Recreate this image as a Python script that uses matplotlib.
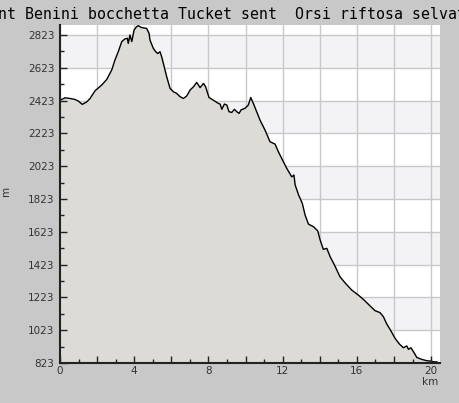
import matplotlib
matplotlib.use("Agg")
import matplotlib.pyplot as plt
from matplotlib.ticker import FixedLocator

title_text = "nt Benini bocchetta Tucket sent  Orsi riftosa selvat"

dist_km = [0, 0.27, 0.54, 0.81, 0.99, 1.20, 1.44, 1.62, 1.89, 2.25, 2.52, 2.79, 2.96,
           3.14, 3.33, 3.50, 3.63, 3.68, 3.77, 3.87, 3.99, 4.13, 4.22, 4.38, 4.67,
           4.80, 4.85, 5.03, 5.16, 5.27, 5.39, 5.48, 5.57, 5.75, 5.93, 6.11, 6.29,
           6.47, 6.65, 6.83, 7.01, 7.19, 7.37, 7.55, 7.73, 7.85, 8.03, 8.26, 8.53,
           8.63, 8.72, 8.86, 8.99, 9.11, 9.26, 9.40, 9.53, 9.65, 9.76, 9.97, 10.15,
           10.28, 10.42, 10.60, 10.78, 11.05, 11.32, 11.59, 11.77, 12.04, 12.22,
           12.49, 12.61, 12.67, 12.85, 13.06, 13.21, 13.39, 13.66, 13.89, 14.02,
           14.19, 14.38, 14.56, 14.82, 15.09, 15.36, 15.72, 16.08, 16.35, 16.71,
           16.98, 17.25, 17.43, 17.61, 17.83, 18.06, 18.29, 18.51, 18.69, 18.78,
           18.91, 19.05, 19.23, 19.50, 19.77, 19.95, 20.12, 20.32]
elev_m = [2425, 2440, 2436, 2430, 2420, 2400, 2415, 2436, 2483, 2518, 2552, 2610, 2670,
          2721, 2783, 2799, 2803, 2772, 2823, 2783, 2853, 2874, 2880, 2869, 2863,
          2833, 2792, 2741, 2721, 2710, 2721, 2690, 2650, 2569, 2498, 2477, 2467,
          2447, 2436, 2451, 2487, 2507, 2534, 2502, 2528, 2507, 2442, 2426, 2406,
          2402, 2370, 2402, 2396, 2355, 2351, 2370, 2355, 2345, 2366, 2376, 2396,
          2442, 2406, 2355, 2304, 2243, 2172, 2158, 2111, 2050, 2010,
          1958, 1969, 1910, 1850, 1796, 1725, 1670, 1654, 1629, 1573,
          1516, 1522, 1471, 1414, 1349, 1312, 1268, 1237, 1211, 1171,
          1142, 1130, 1105, 1061, 1020, 973, 939, 916, 927, 906,
          916, 892, 857, 845, 837, 835, 831, 829]

y_major = [823, 1023, 1223, 1423, 1623, 1823, 2023, 2223, 2423, 2623, 2823]
y_minor = [923, 1123, 1323, 1523, 1723, 1923, 2123, 2323, 2523, 2723]
x_major = [0, 2, 4, 6, 8, 10, 12, 14, 16, 18, 20]
x_minor = [1, 3, 5, 7, 9, 11, 13, 15, 17, 19]
x_labels = ["0", "", "4", "", "8", "", "12", "", "16", "", "20"]
bands = [(1023, 1223), (1423, 1623), (1823, 2023), (2223, 2423), (2623, 2823)]

bg = "#c8c8c8"
fig = plt.figure(figsize=(4.59, 4.03), dpi=100, facecolor=bg)
ax = fig.add_axes([60/459, 40/403, 380/459, 338/403])
ax.set_facecolor("white")
ax.set_xlim(0, 20.48)
ax.set_ylim(823, 2884)

for lo, hi in bands:
    ax.axhspan(lo, hi, color="#f3f2f5", zorder=0.1, lw=0)

for x in x_major:
    ax.axvline(x, color="#c8c8c8", lw=1, zorder=0.5)
for y in y_major:
    ax.axhline(y, color="#c8c8c8", lw=1, zorder=0.5)

ax.fill_between(dist_km, elev_m, 823, color="#dcdbd6", lw=0, zorder=1)
ax.plot(dist_km, elev_m, color="black", lw=1, zorder=2)

for s in ["top", "right"]:
    ax.spines[s].set_visible(False)
for s in ["left", "bottom"]:
    ax.spines[s].set_color("#222222")
    ax.spines[s].set_linewidth(1.5)
    ax.spines[s].set_zorder(4)

ax.xaxis.set_major_locator(FixedLocator(x_major))
ax.xaxis.set_minor_locator(FixedLocator(x_minor))
ax.set_xticklabels(x_labels)
ax.yaxis.set_major_locator(FixedLocator(y_major))
ax.yaxis.set_minor_locator(FixedLocator(y_minor))
ax.set_yticklabels([str(v) for v in y_major])
ax.tick_params(axis="both", which="major", direction="in", length=5, width=1,
               color="#222222", labelsize=7.5, labelcolor="#333333", pad=4)
ax.tick_params(axis="both", which="minor", direction="in", length=3, width=1,
               color="#222222")
ax.tick_params(axis="x", which="major", pad=2.5)
ax.xaxis.set_zorder(3)
ax.yaxis.set_zorder(3)

ax.set_ylabel("m", fontsize=7.5, color="#333333")
ax.yaxis.set_label_coords(-0.129, 0.509)
ax.set_xlabel("km", fontsize=7.5, color="#333333", va="center")
ax.xaxis.set_label_coords(0.974, -0.056)

fig.text(-1.8/459, 1 - 19/403, title_text, family="DejaVu Sans Mono",
         fontsize=10.7, color="black", ha="left", va="baseline")

fig.savefig("out.png", dpi=100, facecolor=bg)
